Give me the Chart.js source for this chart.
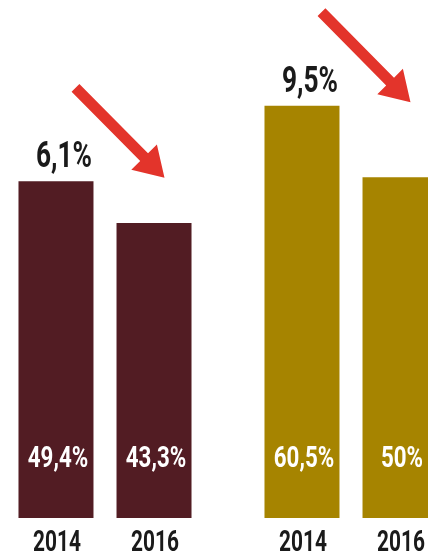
<!DOCTYPE html>
<html lang="es">
<head>
  <meta charset="UTF-8">
  <title>2014 vs 2016</title>
  <script src="https://cdn.jsdelivr.net/npm/chart.js"></script>
  <style>
    html, body {
      margin: 0;
      padding: 0;
      background: #fff;
      overflow: hidden;
      width: 428px;
      height: 551px;
    }
    #wrap {
      position: absolute;
      left: -18px;
      top: 0;
      width: 492px;
      height: 551px;
    }
  </style>
</head>
<body>
  <div id="wrap"><canvas id="bars" width="492" height="551"></canvas></div>

  <script>
    const groups = ['Grupo 1', 'Grupo 2'];
    const years = ['2014', '2016'];
    const values2014 = [49.4, 60.5];
    const values2016 = [43.3, 50];
    const changes = ['6,1%', '9,5%'];
    const groupColors = ['#521c23', '#a68400'];

    const fmt = v => String(v).replace('.', ',') + '%';

    function narrowText(ctx, text, x, y, size, sx, color) {
      ctx.save();
      ctx.translate(x, y);
      ctx.scale(sx, 1);
      ctx.font = `bold ${size}px Roboto, "DejaVu Sans", sans-serif`;
      ctx.fillStyle = color;
      ctx.textAlign = 'center';
      ctx.textBaseline = 'alphabetic';
      ctx.fillText(text, 0, 0);
      ctx.restore();
    }

    function arrow(ctx, x0, y0, x1, y1) {
      const len = Math.hypot(x1 - x0, y1 - y0);
      const head = 29, shaft = 5.5, wing = 18;
      ctx.save();
      ctx.translate(x0, y0);
      ctx.rotate(Math.atan2(y1 - y0, x1 - x0));
      ctx.beginPath();
      ctx.moveTo(0, -shaft);
      ctx.lineTo(len - head, -shaft);
      ctx.lineTo(len - head, -wing);
      ctx.lineTo(len, 0);
      ctx.lineTo(len - head, wing);
      ctx.lineTo(len - head, shaft);
      ctx.lineTo(0, shaft);
      ctx.closePath();
      ctx.fillStyle = '#e3342b';
      ctx.fill();
      ctx.restore();
    }

    const labelsPlugin = {
      id: 'labels',
      afterDatasetsDraw(chart) {
        const ctx = chart.ctx;
        const bottom = chart.chartArea.bottom;
        chart.data.datasets.forEach((ds, d) => {
          chart.getDatasetMeta(d).data.forEach((bar, i) => {
            narrowText(ctx, fmt(ds.data[i]), bar.x + 2, bottom - 51, 29, 0.77, '#ffffff');
            narrowText(ctx, ds.label, bar.x + 1, bottom + 33, 29, 0.72, '#1a1a1a');
          });
        });
        const first = chart.getDatasetMeta(0).data;
        first.forEach((bar, i) => {
          const tipX = bar.x + 108.5, tipY = bar.y - 3.5;
          arrow(ctx, tipX - 89, tipY - 90, tipX, tipY);
          narrowText(ctx, changes[i], bar.x + 8, bar.y - 14, 36, 0.73, '#1a1a1a');
        });
      }
    };

    new Chart(document.getElementById('bars'), {
      type: 'bar',
      data: {
        labels: groups,
        datasets: [
          { label: years[0], data: values2014, backgroundColor: groupColors },
          { label: years[1], data: values2016, backgroundColor: groupColors }
        ]
      },
      options: {
        responsive: false,
        animation: false,
        categoryPercentage: 0.797,
        barPercentage: 0.765,
        layout: { padding: { top: 0, bottom: 33, left: 0, right: 0 } },
        scales: {
          x: { display: false },
          y: { display: false, min: 0, max: 76 }
        },
        plugins: {
          legend: { display: false },
          tooltip: { enabled: false }
        }
      },
      plugins: [labelsPlugin]
    });
  </script>
</body>
</html>
